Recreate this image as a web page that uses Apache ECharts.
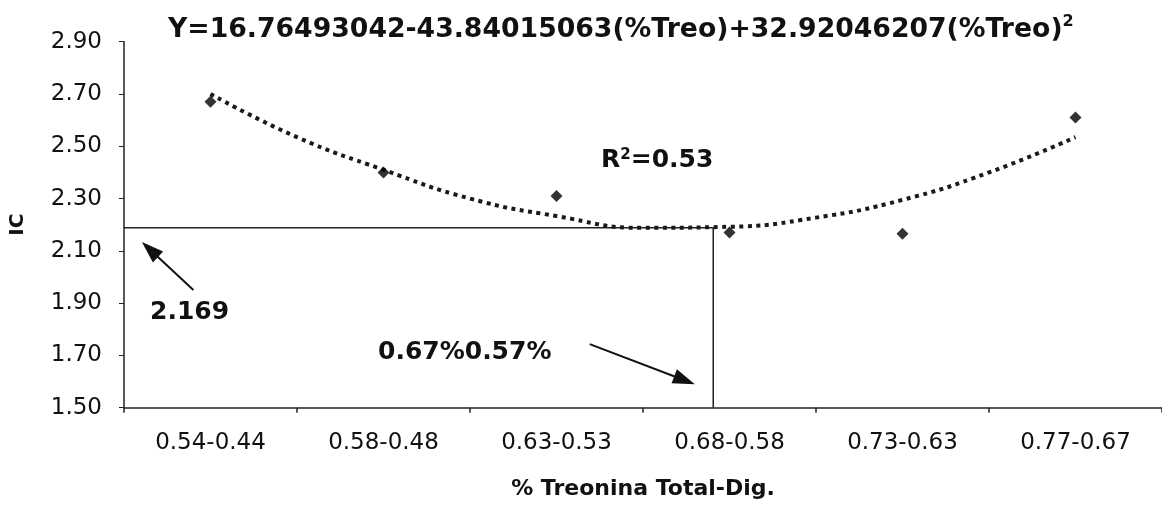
<!DOCTYPE html>
<html>
<head>
<meta charset="utf-8">
<script src="https://cdn.jsdelivr.net/npm/echarts@6/dist/echarts.min.js"></script>
<style>
html,body{margin:0;padding:0;background:#fff;}
#chart{width:1162px;height:506px;}
</style>
</head>
<body>
<div id="chart"></div>
<script>
// ---- data ----
const categories = ['0.54-0.44', '0.58-0.48', '0.63-0.53', '0.68-0.58', '0.73-0.63', '0.77-0.67'];
const icValues = [2.67, 2.40, 2.31, 2.17, 2.165, 2.61];
const trendPos = [0.5, 1.0, 1.5, 2.0, 2.5, 3.0, 3.5, 4.0, 4.5, 5.0, 5.5];
const trendValues = [2.70, 2.535, 2.41, 2.30, 2.233, 2.188, 2.192, 2.227, 2.295, 2.40, 2.535];
const yTicks = [1.5, 1.7, 1.9, 2.1, 2.3, 2.5, 2.7, 2.9];
const optimumPos = 3.406;
const optimumIC = 2.188;
const arrowA = [[0.401, 1.950], [0.15, 2.105]];
const arrowB = [[2.692, 1.743], [3.24, 1.605]];
const titleText = 'Y=16.76493042-43.84015063(%Treo)+32.92046207(%Treo)';
const r2Text = '=0.53';
const optimumLabel = '2.169';
const levelLabel = '0.67%0.57%';

const FF = '"DejaVu Sans"';
const chart = echarts.init(document.getElementById('chart'));

chart.setOption({
  backgroundColor: '#ffffff',
  animation: false,
  title: {
    text: titleText + '{sup|2}',
    left: 163,
    top: 9,
    textStyle: {
      fontFamily: FF, fontSize: 26.7, fontWeight: 'bold', color: '#111', lineHeight: 32,
      rich: { sup: { fontFamily: FF, fontSize: 16, fontWeight: 'bold', color: '#111', verticalAlign: 'top' } }
    }
  },
  grid: { left: 122, top: 41.7, right: -7.5, bottom: 98.3, containLabel: false },
  xAxis: [
    {
      type: 'category',
      data: categories,
      boundaryGap: true,
      axisLine: { show: true, lineStyle: { color: '#222', width: 1.5 } },
      axisTick: { show: true, interval: 0, length: 5, lineStyle: { color: '#222', width: 1.5 } },
      axisLabel: { interval: 0, fontFamily: FF, fontSize: 23, color: '#111', margin: 24 },
      splitLine: { show: false },
      name: '% Treonina Total-Dig.',
      nameLocation: 'middle',
      nameGap: 71,
      nameTextStyle: { fontFamily: FF, fontSize: 22, fontWeight: 'bold', color: '#111' }
    },
    { type: 'value', min: 0, max: 6, show: false }
  ],
  yAxis: {
    type: 'value',
    min: 1.5,
    max: 2.9,
    axisLine: { show: true, lineStyle: { color: '#222', width: 1.5 } },
    axisTick: { show: true, length: 5, customValues: yTicks, lineStyle: { color: '#222' } },
    axisLabel: { customValues: yTicks, formatter: v => v.toFixed(2), fontFamily: FF, fontSize: 23, color: '#111', margin: 22 },
    splitLine: { show: false },
    name: 'IC',
    nameLocation: 'middle',
    nameRotate: 90,
    nameGap: 96,
    nameTextStyle: { fontFamily: FF, fontSize: 20, fontWeight: 'bold', color: '#111' }
  },
  series: [
    {
      name: 'Tendência',
      type: 'line',
      xAxisIndex: 1,
      data: trendPos.map((x, i) => [x, trendValues[i]]),
      smooth: true,
      showSymbol: false,
      symbol: 'none',
      lineStyle: { color: '#1a1a1a', width: 4, type: [4, 4.5] },
      z: 2
    },
    {
      name: 'Ótimo',
      type: 'line',
      xAxisIndex: 1,
      data: [[0, optimumIC], [optimumPos, optimumIC], [optimumPos, 1.5]],
      symbol: 'none',
      lineStyle: { color: '#222', width: 1.5 },
      z: 1,
      markLine: {
        silent: true,
        symbol: ['none', 'triangle'],
        symbolSize: [15, 22],
        label: { show: false },
        lineStyle: { color: '#111', width: 2, type: 'solid' },
        itemStyle: { color: '#111' },
        data: [
          [{ coord: arrowA[0] }, { coord: arrowA[1] }],
          [{ coord: arrowB[0] }, { coord: arrowB[1] }]
        ]
      }
    },
    {
      name: 'IC',
      type: 'scatter',
      xAxisIndex: 0,
      data: icValues,
      symbol: 'diamond',
      symbolSize: 12,
      itemStyle: { color: '#000' },
      z: 3
    }
  ],
  graphic: [
    {
      type: 'text', left: 150, top: 300,
      style: { text: optimumLabel, font: 'bold 25px ' + FF, fill: '#111' }
    },
    {
      type: 'text', left: 378, top: 340,
      style: { text: levelLabel, font: 'bold 25px ' + FF, fill: '#111' }
    },
    {
      type: 'text', left: 601, top: 148,
      style: {
        text: 'R{sup|2}' + r2Text, font: 'bold 25px ' + FF, fill: '#111',
        rich: { sup: { font: 'bold 15px ' + FF, fill: '#111', verticalAlign: 'top' } }
      }
    }
  ]
});
</script>
</body>
</html>
